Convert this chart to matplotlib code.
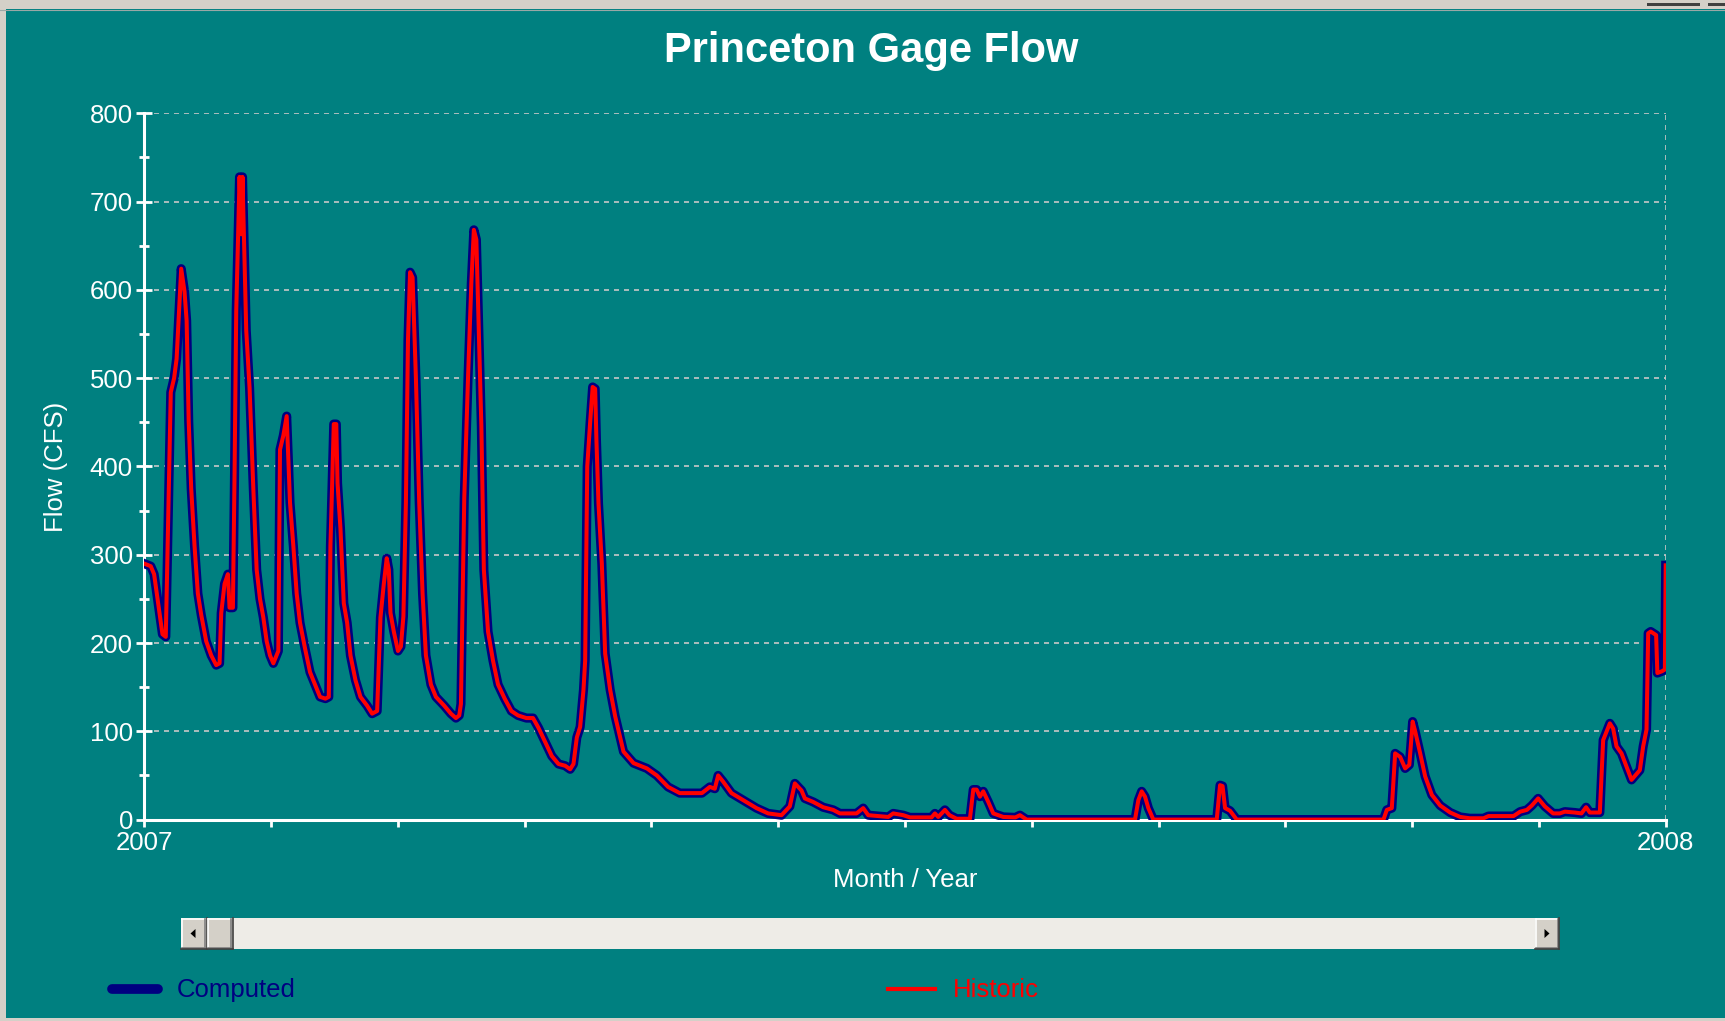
import matplotlib
matplotlib.use("Agg")
import matplotlib.pyplot as plt
import matplotlib.transforms as mtransforms
from matplotlib.patches import Rectangle, Polygon
from matplotlib.lines import Line2D
import numpy as np

W, H = 1725, 1021

TEAL = "#008080"
FRAME_GRAY = "#D4D0C8"
TRACK_COLOR = "#EEECE7"
GRID_COLOR = "#C8C8C8"
COMPUTED_COLOR = "#000080"
HISTORIC_COLOR = "#FF0000"

plt.rcParams["font.family"] = ["Liberation Sans", "DejaVu Sans"]

# day of 2007 (0 = Jan 1 2007, 365 = Jan 1 2008)
days = [
    0, 1.6, 2.4, 4.4, 5.2, 6.4, 7.2, 7.8, 8.9, 9.7,
    10.2, 10.7, 11.3, 12.1, 12.9, 13.7, 14.9, 16.1, 17.3, 18.1,
    18.5, 19.3, 20.1, 20.5, 21.3, 21.7, 22.1, 22.9, 23.3, 23.6,
    24.5, 25.3, 26.2, 27.0, 27.8, 28.6, 29.4, 30.2, 31.0, 32.2,
    32.6, 33.4, 34.2, 35.0, 35.8, 36.6, 37.4, 38.6, 39.8, 41.0,
    42.2, 43.5, 44.3, 44.7, 45.5, 46.1, 46.4, 47.1, 47.9, 48.7,
    49.5, 50.7, 51.9, 53.5, 54.7, 55.9, 56.7, 57.5, 58.2, 58.7,
    59.1, 59.9, 60.9, 61.6, 62.2, 62.8, 63.3, 63.8, 64.4, 65.2,
    66.0, 66.8, 67.6, 68.8, 70.0, 72.0, 73.6, 74.8, 75.6, 76.0,
    76.8, 77.7, 78.5, 79.1, 79.7, 80.1, 80.9, 81.5, 82.5, 83.7,
    84.9, 86.5, 88.1, 89.7, 91.7, 93.3, 94.6, 96.2, 97.8, 99.4,
    101.0, 102.2, 103.0, 103.8, 104.6, 105.4, 105.8, 106.3, 107.0, 107.6,
    108.2, 108.5, 109.0, 109.8, 110.6, 111.8, 113.0, 115.0, 117.4, 120.6,
    123.0, 125.7, 128.5, 133.8, 135.7, 136.9, 137.7, 138.9, 140.9, 143.7,
    146.9, 149.7, 152.9, 154.9, 156.1, 157.7, 158.5, 160.5, 162.9, 165.3,
    166.9, 170.9, 172.5, 173.7, 178.5, 179.7, 182.1, 183.7, 188.9, 189.7,
    190.5, 192.1, 193.2, 194.9, 198.1, 198.9, 199.7, 200.5, 201.3, 202.5,
    203.7, 206.1, 209.0, 210.1, 211.7, 237.7, 238.5, 239.3, 240.1, 240.9,
    242.1, 257.3, 258.1, 258.7, 259.3, 260.5, 262.1, 297.3, 298.1, 299.3,
    300.1, 301.3, 302.5, 303.5, 304.3, 304.9, 306.1, 307.3, 308.9, 310.9,
    313.3, 315.7, 318.0, 321.3, 322.5, 328.5, 330.1, 331.7, 332.9, 334.4,
    336.0, 338.0, 339.6, 340.8, 343.2, 344.8, 345.9, 346.8, 349.2, 350.0,
    351.6, 352.4, 353.2, 354.4, 356.8, 358.8, 359.6, 360.4, 360.8, 361.4,
    362.7, 363.0, 364.1, 364.8, 365.0,
]

historic_cfs = [
    290, 287, 278, 210, 207, 484, 500, 522, 624, 598,
    565, 451, 375, 310, 256, 232, 202, 186, 175, 177,
    234, 267, 278, 240, 240, 392, 576, 728, 663, 728,
    554, 489, 375, 283, 250, 229, 202, 186, 177, 191,
    419, 435, 457, 359, 310, 256, 223, 194, 167, 153,
    139, 137, 139, 310, 448, 448, 381, 330, 245, 223,
    186, 158, 139, 129, 120, 123, 229, 267, 296, 283,
    234, 213, 191, 196, 230, 359, 543, 620, 614, 500,
    359, 256, 186, 153, 139, 129, 120, 115, 118, 131,
    364, 500, 608, 668, 657, 587, 446, 283, 213, 180,
    153, 137, 123, 118, 115, 115, 104, 88, 72, 63,
    61, 57, 63, 93, 105, 147, 180, 400, 450, 490,
    488, 430, 358, 290, 188, 147, 117, 77, 64, 58,
    50, 37, 30, 30, 37, 35, 50, 43, 30, 22,
    13, 7, 5, 15, 41, 33, 24, 20, 14, 11,
    7, 7, 13, 5, 3, 7, 5, 2.5, 2.5, 7,
    3, 11, 5, 1, 1, 34, 34, 26, 32, 20,
    7, 3, 2.5, 5, 0, 0, 22, 32, 26, 13,
    0, 0, 39, 38, 13, 10, 0, 0, 11, 13,
    75, 71, 58, 62, 111, 100, 75, 49, 28, 16,
    8, 3, 1.5, 1.5, 4, 4, 9, 11, 16, 24,
    15, 7, 7, 9, 8, 7, 14, 8, 8, 90,
    109, 103, 83, 75, 45, 56, 83, 102, 211, 213,
    209, 166, 168, 170, 288,
]

# computed flow is indistinguishable from the gage record at this scale
computed_cfs = historic_cfs

y_ticks = [0, 100, 200, 300, 400, 500, 600, 700, 800]
year_labels = ["2007", "2008"]

fig = plt.figure(figsize=(W / 100, H / 100), dpi=100, facecolor=TEAL)

# pixel coordinates measured from the top-left corner of the picture
px = mtransforms.Affine2D().scale(1 / W, -1 / H).translate(0, 1) + fig.transFigure


def px_rect(x0, y0, x1, y1, color, zorder=1):
    fig.patches.append(Rectangle((x0, y0), x1 - x0, y1 - y0, transform=px,
                                 facecolor=color, edgecolor="none", zorder=zorder))


def px_line(xs, ys, color, lw=1.0, zorder=3, **kw):
    fig.lines.append(Line2D(xs, ys, transform=px, color=color, linewidth=lw,
                            zorder=zorder, **kw))


# window frame remains around the screenshot
px_rect(0, 0, W, 9.5, FRAME_GRAY)
px_line([0, W], [10, 10], "#9AA8A6", lw=0.8)
px_rect(0, 0, 6, H, FRAME_GRAY)
px_rect(0, H - 3, W, H, FRAME_GRAY)
px_rect(1647, 3, 1700, 6, "#404040")
px_rect(1708, 3, W, 6, "#404040")

# main plot
ax = fig.add_axes([144.1 / W, 1 - 819.6 / H, (1665.7 - 144.1) / W, (819.6 - 113.3) / H])
ax.set_facecolor(TEAL)

ax.plot(days, computed_cfs, color=COMPUTED_COLOR, linewidth=6.6,
        solid_joinstyle="round", zorder=3)
ax.plot(days, historic_cfs, color=HISTORIC_COLOR, linewidth=2.9,
        solid_joinstyle="round", zorder=3.1)

ax.set_xlim(0, 365)
ax.set_ylim(0, 800)

for side in ["top", "right"]:
    ax.spines[side].set_visible(False)
for side in ["left", "bottom"]:
    ax.spines[side].set_color("white")
    ax.spines[side].set_linewidth(2.2)

ax.set_yticks(y_ticks)
ax.set_yticks(np.arange(50, 800, 100), minor=True)
ax.yaxis.grid(True, which="major", color=GRID_COLOR, linestyle=(0, (3, 3)), linewidth=1.2)
ax.axvline(365, color=GRID_COLOR, linestyle=(0, (3, 3)), linewidth=1.2, zorder=1)
ax.set_axisbelow(True)

month_ticks = np.linspace(0, 365, 13)
ax.set_xticks(month_ticks)
ax.set_xticklabels([year_labels[0]] + [""] * 11 + [year_labels[1]])

ax.tick_params(axis="y", which="major", direction="inout", length=12, width=2,
               colors="white", labelsize=18.5, pad=2)
ax.tick_params(axis="y", which="minor", direction="inout", length=7, width=2,
               colors="white")
ax.tick_params(axis="x", which="major", direction="out", length=5, width=2,
               colors="white", labelsize=18.5, pad=3)

ax.set_xlabel("Month / Year", color="white", fontsize=18.5, va="center")
ax.xaxis.set_label_coords(0.5, (819.6 - 880) / 706.3)
ax.set_ylabel("Flow (CFS)", color="white", fontsize=18.5, va="center", ha="center")
ax.yaxis.set_label_coords((56 - 144.1) / 1521.6, 0.5)

fig.text(871 / W, 1 - 61.6 / H, "Princeton Gage Flow", color="white", fontsize=30,
         fontweight="bold", ha="center", va="baseline")

# scrollbar below the plot
sb_top, sb_bot = 918, 949
px_rect(181, sb_top, 1559, sb_bot, TRACK_COLOR)


def button(x0, x1):
    px_rect(x0, sb_top, x1, sb_bot, FRAME_GRAY, zorder=2)
    px_line([x0 + 1, x1 - 1], [sb_top + 1, sb_top + 1], "white", lw=1.2)
    px_line([x0 + 1, x0 + 1], [sb_top + 1, sb_bot - 1], "white", lw=1.2)
    px_line([x0 + 1, x1 - 1.5], [sb_bot - 1.5, sb_bot - 1.5], "#808080", lw=1.2)
    px_line([x1 - 1.5, x1 - 1.5], [sb_top + 1, sb_bot - 1.5], "#808080", lw=1.2)
    px_line([x0, x1], [sb_bot, sb_bot], "#404040", lw=1.2)
    px_line([x1, x1], [sb_top, sb_bot], "#404040", lw=1.2)


button(181, 206.5)
button(207, 232.5)
button(1534.5, 1559)
fig.patches.append(Polygon([(190.5, 933.5), (195.5, 929), (195.5, 938)], closed=True,
                           transform=px, facecolor="black", edgecolor="none", zorder=4))
fig.patches.append(Polygon([(1549.5, 933.5), (1544.5, 929), (1544.5, 938)], closed=True,
                           transform=px, facecolor="black", edgecolor="none", zorder=4))

# legend strip
px_line([112, 158], [989, 989], COMPUTED_COLOR, lw=7, solid_capstyle="round")
fig.text(177 / W, 1 - 990 / H, "Computed", color=COMPUTED_COLOR, fontsize=18.5,
         ha="left", va="center")
px_line([888, 935], [989, 989], HISTORIC_COLOR, lw=3)
fig.text(953 / W, 1 - 990 / H, "Historic", color=HISTORIC_COLOR, fontsize=18.5,
         ha="left", va="center")

plt.savefig("out.png", dpi=100, facecolor=TEAL)
plt.close()
